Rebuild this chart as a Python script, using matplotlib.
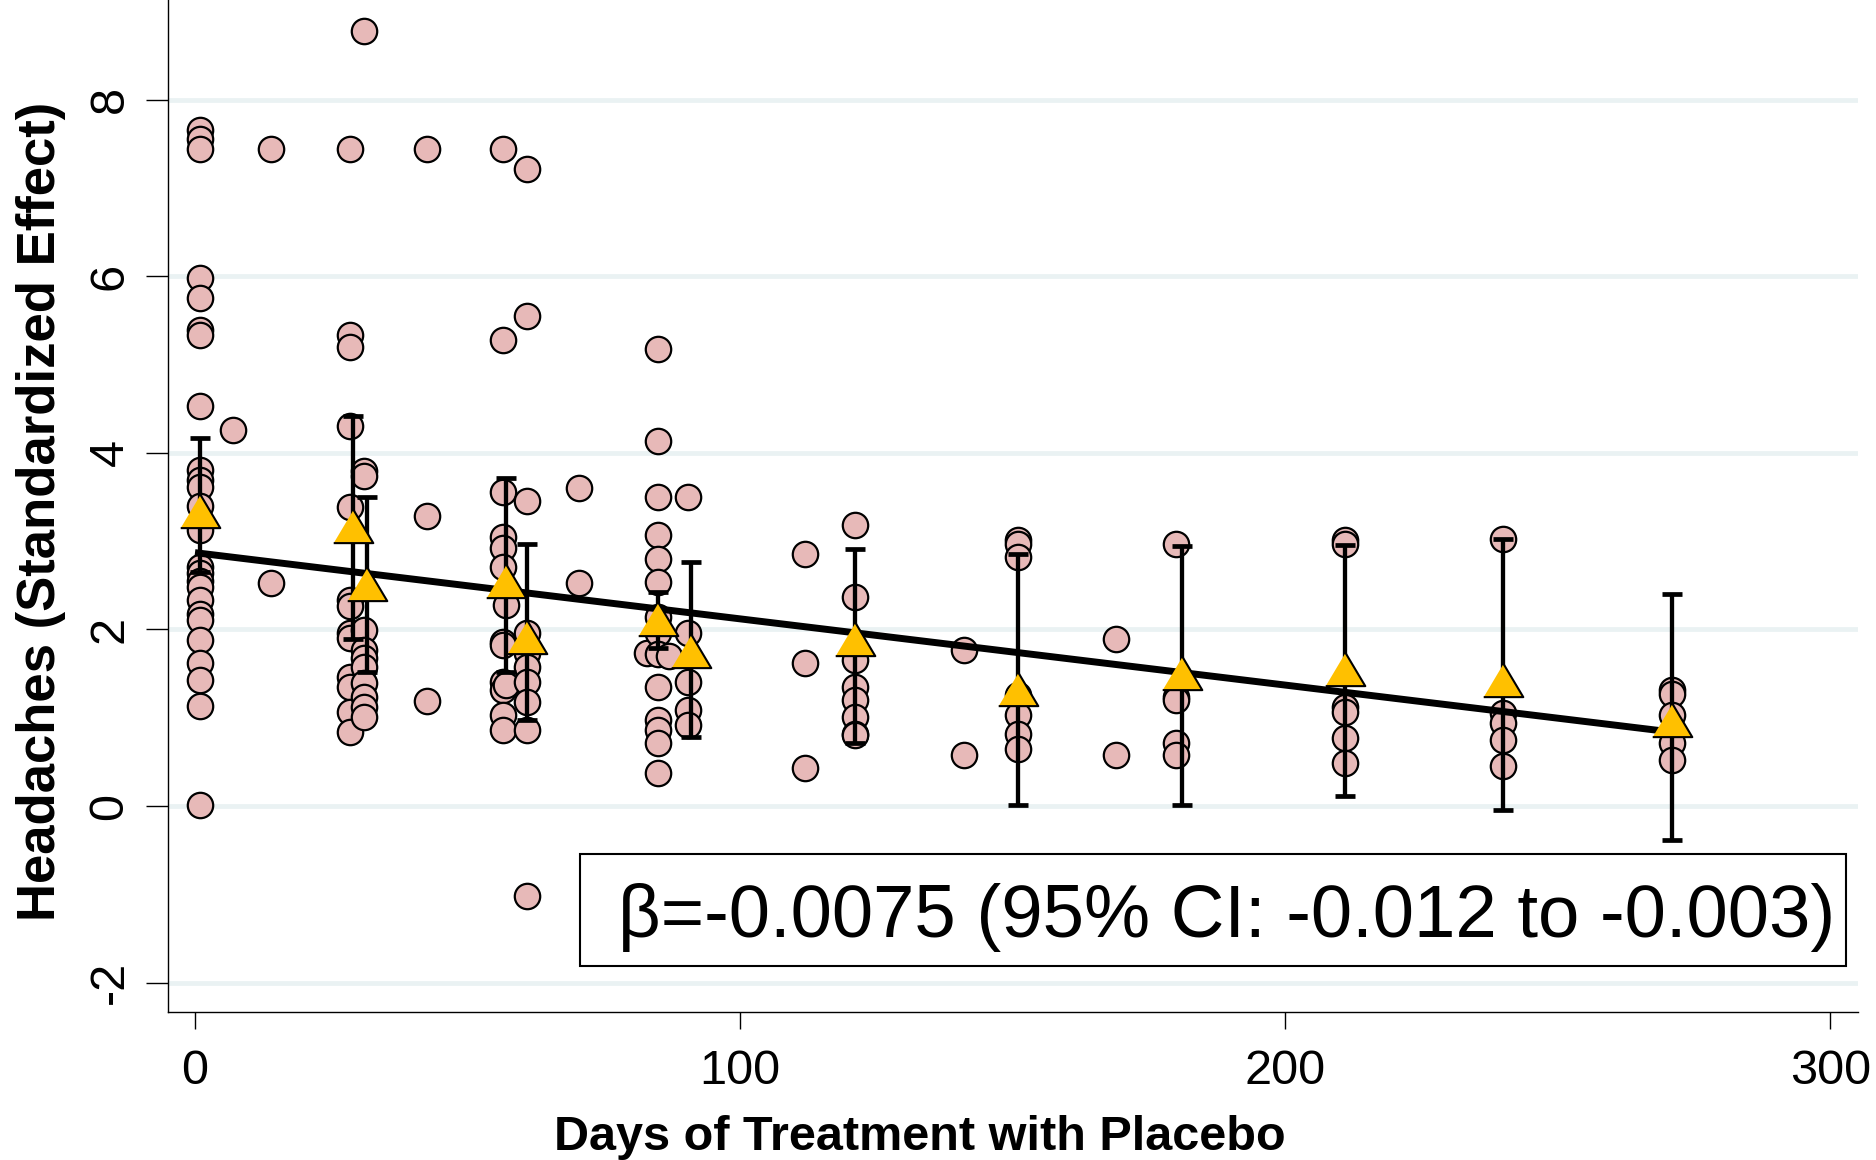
import matplotlib
matplotlib.use("Agg")
import matplotlib.pyplot as plt
from matplotlib.patches import Rectangle
import numpy as np

plt.rcParams['font.family'] = ['Liberation Sans', 'DejaVu Sans']
plt.rcParams['axes.unicode_minus'] = False

# individual study estimates, one list of effects per day of treatment
group_days = [1, 7, 14, 28.5, 31, 42.5, 56.5, 57, 61, 70.5, 83, 85, 87, 90.5,
              112, 121, 141, 151, 169, 180, 211, 240, 271]
group_effects = [
    [7.66, 7.55, 7.44, 5.98, 5.76, 5.39, 5.33, 4.53, 3.81, 3.69, 3.61, 3.40, 3.13,
     2.71, 2.64, 2.55, 2.48, 2.33, 2.18, 2.11, 1.88, 1.62, 1.43, 1.13, 0.01],
    [4.26],
    [7.44, 2.53],
    [7.44, 5.33, 5.20, 4.31, 3.39, 2.33, 2.26, 1.96, 1.90, 1.46, 1.35, 1.07, 0.84],
    [8.78, 3.80, 3.74, 1.99, 1.77, 1.68, 1.58, 1.39, 1.24, 1.12, 1.01],
    [7.44, 3.28, 1.19],
    [7.44, 5.28, 3.56, 3.05, 2.92, 2.71, 1.86, 1.82, 1.41, 1.31, 1.03, 0.86],
    [2.28, 1.37],
    [7.21, 5.55, 3.45, 1.96, 1.73, 1.58, 1.41, 1.18, 0.86, -1.02],
    [3.60, 2.53],
    [1.73],
    [5.18, 4.14, 3.50, 3.07, 2.80, 2.54, 2.14, 1.96, 1.72, 1.35, 0.97, 0.86, 0.71, 0.37],
    [1.70],
    [3.50, 1.96, 1.41, 1.09, 0.92],
    [2.85, 1.62, 0.43],
    [3.18, 2.37, 1.65, 1.35, 1.20, 1.01, 0.82, 0.80],
    [1.77, 0.58],
    [3.01, 2.97, 2.82, 1.26, 1.03, 0.82, 0.65],
    [1.89, 0.58],
    [2.97, 1.24, 1.20, 0.71, 0.58],
    [3.01, 2.97, 1.12, 1.07, 0.77, 0.49],
    [3.03, 1.05, 0.94, 0.75, 0.45],
    [1.31, 1.27, 1.03, 0.71, 0.52],
]

# pooled means with 95% CI per time point
mean_days = [1, 29, 31.5, 57, 61, 85, 91, 121, 151, 181, 211, 240, 271]
mean_effect = [3.34, 3.17, 2.51, 2.55, 1.92, 2.12, 1.76, 1.89, 1.32, 1.51, 1.55, 1.43, 0.97]
ci_low = [2.65, 1.89, 1.52, 1.52, 0.97, 1.79, 0.78, 0.71, 0.01, 0.01, 0.11, -0.05, -0.38]
ci_high = [4.17, 4.42, 3.50, 3.72, 2.97, 2.42, 2.76, 2.91, 2.85, 2.94, 2.96, 3.02, 2.40]

# meta-regression fit
fit_intercept = 2.87
fit_beta = -0.0075
fit_range = [0, 271]
annot = "\u03b2=-0.0075 (95% CI: -0.012 to -0.003)"

W, H = 1876, 1160
fig = plt.figure(figsize=(W / 100, H / 100), dpi=100)
ax = fig.add_axes([168 / W, 1 - 1011.7 / H, (1858 - 168) / W, 1011.7 / H])

xs = np.concatenate([np.full(len(v), d) for d, v in zip(group_days, group_effects)])
ys = np.concatenate(group_effects)
ax.scatter(xs, ys, s=18.3 ** 2, facecolor='#E7B9B8', edgecolor='black',
           linewidths=1.6, zorder=3)

means = np.array(mean_effect)
yerr = [means - np.array(ci_low), np.array(ci_high) - means]
ax.errorbar(mean_days, means, yerr=yerr, fmt='none', ecolor='black',
            elinewidth=3.1, capsize=7.5, capthick=3.4, zorder=4)

fx = np.array(fit_range)
ax.plot(fx, fit_intercept + fit_beta * fx, color='black', lw=5,
        solid_capstyle='butt', zorder=5)

tri = [(-1, -0.84), (1, -0.84), (0, 0.84)]
ax.scatter(mean_days, means, marker=tri, s=28.5 ** 2, facecolor='#FFC000',
           edgecolor='black', linewidths=1.5, zorder=6)

ax.set_xlim(-4.95, 305.1)
ax.set_ylim(-2.33, 9.13)
ax.set_xticks([0, 100, 200, 300])
ax.set_yticks([-2, 0, 2, 4, 6, 8])

ax.yaxis.grid(True, color='#EAF2F3', lw=3.4)
ax.set_axisbelow(True)
for s in ['top', 'right']:
    ax.spines[s].set_visible(False)
for s in ['left', 'bottom']:
    ax.spines[s].set_linewidth(1.0)

ax.tick_params(axis='x', length=12, width=1.0, pad=15, labelsize=35)
ax.tick_params(axis='y', length=15.6, width=1.0, pad=10, labelsize=35)
for lab in ax.get_yticklabels():
    lab.set_rotation(90)
    lab.set_va('center')
    lab.set_ha('right')

fig.text(920 / W, 1 - 1150 / H, "Days of Treatment with Placebo", fontsize=35,
         fontweight='bold', ha='center', va='baseline')
fig.text(55 / W, 1 - 511 / H, "Headaches (Standardized Effect)", fontsize=38,
         fontweight='bold', rotation=90, rotation_mode='anchor',
         ha='center', va='baseline')

# annotation box
fig.patches.append(Rectangle((580 / W, 1 - 966 / H), (1846 - 580) / W, (966 - 854) / H,
                             transform=fig.transFigure, facecolor='white',
                             edgecolor='black', lw=1.5, zorder=7))
fig.text(618 / W, 1 - 937 / H, annot, fontsize=53.6, ha='left', va='baseline', zorder=8)

fig.savefig("out.png", dpi=100)
